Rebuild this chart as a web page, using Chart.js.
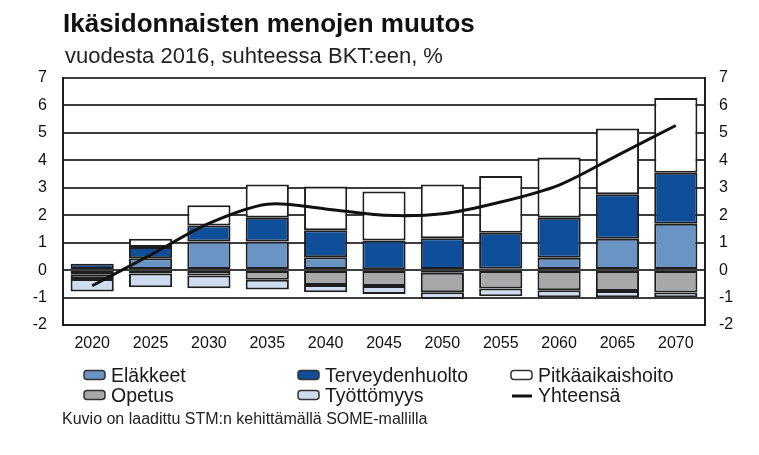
<!DOCTYPE html>
<html>
<head>
<meta charset="utf-8">
<title>Ikäsidonnaisten menojen muutos</title>
<script src="https://cdn.jsdelivr.net/npm/chart.js@4/dist/chart.umd.min.js"></script>
<style>
    html, body { margin: 0; padding: 0; background: #fff; }
    #wrap { width: 759px; height: 455px; }
</style>
</head>
<body>
<div id="wrap"><canvas id="chartMenot" width="759" height="455"></canvas></div>
<script>
/*
 * Data luettu kuvasta (% BKT:sta, muutos vuodesta 2016)
 * */
var vuodet = ['2020', '2025', '2030', '2035', '2040', '2045', '2050', '2055', '2060', '2065', '2070'];

var elakkeet      = [-0.17, 0.43, 1.04, 1.04, 0.47, 0.03, -0.10, 0.05, 0.45, 1.14, 1.69];
var terveys       = [0.23, 0.41, 0.59, 0.87, 0.98, 1.05, 1.16, 1.31, 1.46, 1.62, 1.86];
var pitkaaikainen = [0.00, 0.30, 0.73, 1.21, 1.60, 1.78, 1.96, 2.07, 2.19, 2.40, 2.72];
var opetus        = [-0.15, -0.12, -0.20, -0.35, -0.54, -0.58, -0.71, -0.67, -0.73, -0.76, -0.82];
var tyottomyys    = [-0.46, -0.50, -0.46, -0.36, -0.27, -0.29, -0.24, -0.28, -0.26, -0.23, -0.17];
var yhteensa      = [-0.57, 0.55, 1.70, 2.40, 2.23, 2.00, 2.05, 2.48, 3.10, 4.18, 5.27];

var yMin = -2;
var yMax = 7;

var otsikko = 'Ikäsidonnaisten menojen muutos';
var alaotsikko = 'vuodesta 2016, suhteessa BKT:een, %';
var lahde = 'Kuvio on laadittu STM:n kehittämällä SOME-mallilla';

var fontti = '"Liberation Sans", Arial, sans-serif';
var reunaVari = '#1f1f1f';

function palkki(nimi, arvot, vari) {
    return {
        type: 'bar',
        label: nimi,
        data: arvot,
        backgroundColor: vari,
        borderColor: reunaVari,
        borderWidth: 2,
        borderSkipped: false,
        barPercentage: 0.74,
        categoryPercentage: 1.0,
        stack: 'menot',
        order: 1
    };
}

/*
 * Otsikot, selite ja lähde piirretään itse
 * */
var selitteX = [84, 298, 511];
var selitteY = [375, 395];

var tekstit = {
    id: 'tekstit',
    afterDraw: function (chart) {
        var ctx = chart.ctx;
        ctx.save();
        ctx.textBaseline = 'alphabetic';
        ctx.textAlign = 'left';

        ctx.fillStyle = '#111';
        ctx.font = 'bold 26px ' + fontti;
        ctx.fillText(otsikko, 63, 32);

        ctx.fillStyle = '#222';
        ctx.font = '22px ' + fontti;
        ctx.fillText(alaotsikko, 65, 63);

        ctx.font = '19.5px ' + fontti;
        var sets = chart.data.datasets;
        for (var i = 0; i < sets.length; i++) {
            var x = selitteX[i % 3];
            var y = selitteY[Math.floor(i / 3)];
            if (sets[i].type === 'line') {
                ctx.strokeStyle = '#111';
                ctx.lineWidth = 3;
                ctx.beginPath();
                ctx.moveTo(x + 1, y + 1);
                ctx.lineTo(x + 21, y + 1);
                ctx.stroke();
            } else {
                ctx.fillStyle = sets[i].backgroundColor;
                ctx.strokeStyle = '#333';
                ctx.lineWidth = 1.5;
                ctx.beginPath();
                ctx.roundRect(x, y - 4.5, 21, 9, 3);
                ctx.fill();
                ctx.stroke();
            }
            ctx.fillStyle = '#1a1a1a';
            ctx.fillText(sets[i].label, x + 27, y + 7);
        }

        ctx.font = '16px ' + fontti;
        ctx.fillStyle = '#222';
        ctx.fillText(lahde, 62, 424);
        ctx.restore();
    }
};

var ctx = document.getElementById('chartMenot').getContext('2d');

var chart = new Chart(ctx, {
    data: {
        labels: vuodet,
        datasets: [
            palkki('Eläkkeet', elakkeet, '#6a94c3'),
            palkki('Terveydenhuolto', terveys, '#0f4f9a'),
            palkki('Pitkäaikaishoito', pitkaaikainen, '#ffffff'),
            palkki('Opetus', opetus, '#a8a8aa'),
            palkki('Työttömyys', tyottomyys, '#cddcee'),
            {
                type: 'line',
                label: 'Yhteensä',
                data: yhteensa,
                borderColor: '#111',
                backgroundColor: '#111',
                borderWidth: 3,
                pointRadius: 0,
                tension: 0.3,
                fill: false,
                stack: 'yhteensa',
                order: 0
            }
        ]
    },
    options: {
        responsive: false,
        animation: false,
        devicePixelRatio: 1,
        layout: { padding: { top: 78, left: 0, right: 0, bottom: 0 } },
        plugins: {
            legend: { display: false },
            title: { display: false },
            tooltip: { enabled: false }
        },
        scales: {
            x: {
                stacked: true,
                grid: { display: false, drawTicks: false },
                border: { display: true, color: reunaVari, width: 2 },
                ticks: { color: '#111', font: { family: fontti, size: 16 }, padding: 9 },
                afterFit: function (scale) { scale.height = 130; }
            },
            y: {
                stacked: true,
                position: 'left',
                min: yMin,
                max: yMax,
                grid: { color: '#3d3d3d', lineWidth: 2, drawTicks: false },
                border: { display: true, color: reunaVari, width: 2 },
                ticks: { stepSize: 1, color: '#111', font: { family: fontti, size: 16 }, padding: 16 },
                afterFit: function (scale) { scale.width = 63; }
            },
            y2: {
                position: 'right',
                min: yMin,
                max: yMax,
                grid: { display: false, drawTicks: false },
                border: { display: true, color: reunaVari, width: 2 },
                ticks: { stepSize: 1, color: '#111', font: { family: fontti, size: 16 }, padding: 14 },
                afterFit: function (scale) { scale.width = 54; }
            }
        }
    },
    plugins: [tekstit]
});
</script>
</body>
</html>
